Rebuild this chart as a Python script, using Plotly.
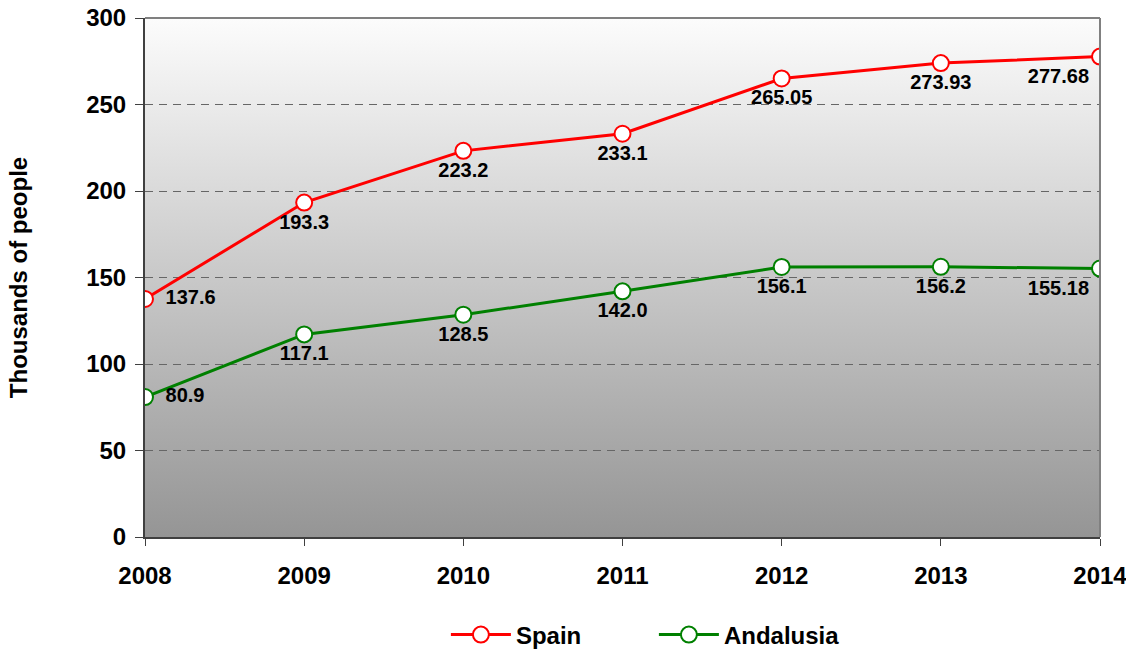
import base64
import plotly.graph_objects as go

years = ["2008", "2009", "2010", "2011", "2012", "2013", "2014"]
spain = [137.6, 193.3, 223.2, 233.1, 265.05, 273.93, 277.68]
spain_labels = ["137.6", "193.3", "223.2", "233.1", "265.05", "273.93", "277.68"]
andalusia = [80.9, 117.1, 128.5, 142.0, 156.1, 156.2, 155.18]
andalusia_labels = ["80.9", "117.1", "128.5", "142.0", "156.1", "156.2", "155.18"]

label_pos = ["middle right"] + ["bottom center"] * 5 + ["bottom left"]
label_tpl = [" \u2009<b>%{text}</b>"] + ["<b>%{text}</b>"] * 6

FONT = "Liberation Sans, Arial, sans-serif"

fig = go.Figure()
fig.add_trace(go.Scatter(
    x=years, y=spain, name="<b>Spain</b>", mode="lines+markers+text",
    text=spain_labels, textposition=label_pos, texttemplate=label_tpl,
    textfont=dict(size=20, color="black", family=FONT),
    line=dict(color="#ff0000", width=3),
    marker=dict(symbol="circle", size=16, color="white",
                line=dict(color="#ff0000", width=2)),
))
fig.add_trace(go.Scatter(
    x=years, y=andalusia, name="<b>Andalusia</b>", mode="lines+markers+text",
    text=andalusia_labels, textposition=label_pos, texttemplate=label_tpl,
    textfont=dict(size=20, color="black", family=FONT),
    line=dict(color="#008000", width=3),
    marker=dict(symbol="circle", size=16, color="white",
                line=dict(color="#008000", width=2)),
))

# smooth vertical gradient for the plot area (svg image stretched behind)
svg = (
    '<svg xmlns="http://www.w3.org/2000/svg" width="100" height="100" preserveAspectRatio="none">'
    '<defs><linearGradient id="g" x1="0" y1="0" x2="0" y2="1">'
    '<stop offset="0" stop-color="#fcfcfc"/><stop offset="1" stop-color="#959595"/>'
    '</linearGradient></defs><rect width="100" height="100" fill="url(#g)"/></svg>'
)
src = "data:image/svg+xml;base64," + base64.b64encode(svg.encode()).decode()
fig.add_layout_image(source=src, xref="paper", yref="paper", x=0, y=1,
                     sizex=1, sizey=1, xanchor="left", yanchor="top",
                     sizing="stretch", layer="below")

# plot border (top and right)
fig.add_shape(type="line", xref="paper", yref="paper", x0=0, x1=1, y0=1, y1=1,
              line=dict(color="#808080", width=2))
fig.add_shape(type="line", xref="paper", yref="paper", x0=1, x1=1, y0=0, y1=1,
              line=dict(color="#808080", width=2))

fig.update_layout(
    width=1126, height=651,
    margin=dict(l=145, r=26, t=18, b=114),
    paper_bgcolor="white", plot_bgcolor="rgba(0,0,0,0)",
    font=dict(family=FONT, color="black"),
    showlegend=True,
    legend=dict(orientation="h", xref="container", yref="container",
                x=0.396, xanchor="left", y=0.0246, yanchor="middle",
                font=dict(size=24, family=FONT), itemwidth=60,
                entrywidth=133, entrywidthmode="pixels"),
)
fig.update_xaxes(
    type="category", range=[0, 6], showgrid=False, automargin=False,
    showline=True, linecolor="#404040", linewidth=2,
    ticks="outside", ticklen=7, tickcolor="#404040",
    tickfont=dict(size=24, family=FONT), ticklabelstandoff=9,
    tickprefix="<b>", ticksuffix="</b>", ticklabeloverflow="allow",
)
fig.update_yaxes(
    range=[0, 300], dtick=50, automargin=False,
    showgrid=True, gridcolor="#666666", griddash="8px,6px", gridwidth=1,
    showline=True, linecolor="#404040", linewidth=2,
    ticks="outside", ticklen=8, tickcolor="#404040",
    tickfont=dict(size=24, family=FONT), ticklabelstandoff=4,
    tickprefix="<b>", ticksuffix="</b>", ticklabeloverflow="allow",
    title=dict(text="<b>Thousands of people</b>", font=dict(size=24, family=FONT),
               standoff=52),
    zeroline=False,
)

# drop the default page margin so the figure sits at the window's top-left
fig.write_html("out.html", config={"displayModeBar": False},
               post_script="document.body.style.margin='0';"
                           "document.body.style.overflow='hidden';")
